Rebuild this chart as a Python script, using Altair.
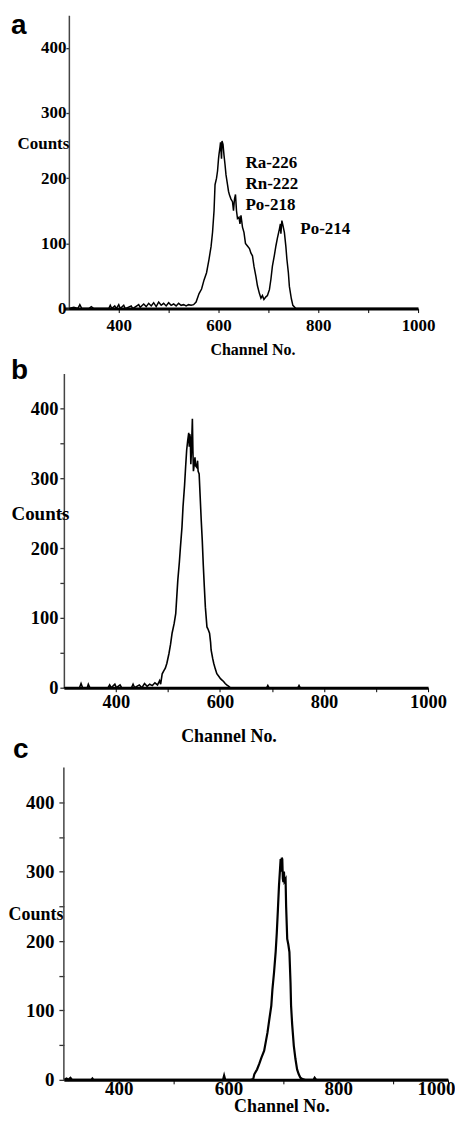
import altair as alt
import pandas as pd

# ---------------- data ----------------
# Panel a: Ra-226 / Rn-222 / Po-218 / Po-214 spectrum
a_ch = [300, 310, 318, 322, 326, 340, 345, 350, 380, 383, 386, 392, 395, 400, 403, 410, 413, 425, 428,
        440, 443, 450, 455, 460, 465, 470, 475, 480, 485, 490, 495, 500, 505, 510, 515, 520, 525, 530,
        535, 540, 545, 550, 555, 561, 566, 571, 576, 581, 585, 588, 591, 593, 596, 598, 600, 601, 603,
        604, 606, 607, 609, 611, 613, 615, 618, 620, 622, 625, 628, 630, 632, 634, 636, 638, 641, 643,
        645, 648, 651, 654, 658, 662, 665, 668, 671, 675, 678, 682, 685, 688, 691, 695, 698, 702, 705,
        708, 712, 715, 718, 722, 724, 725, 727, 729, 732, 735, 737, 740, 742, 746, 749, 755, 1000]
a_ct = [0, 2, 0, 6, 0, 0, 3, 0, 0, 5, 0, 4, 0, 6, 0, 5, 0, 4, 0,
        6, 2, 7, 3, 8, 4, 9, 3, 10, 5, 8, 4, 9, 5, 7, 4, 8, 5, 6,
        4, 6, 5, 6, 10, 23, 30, 44, 55, 76, 95, 117, 150, 190, 200, 211, 230, 237, 248,
        255, 230, 257, 252, 235, 221, 205, 190, 180, 174, 168, 164, 150, 168, 175, 150, 138, 140, 130,
        143, 125, 117, 100, 96, 92, 85, 81, 65, 49, 35, 23, 16, 20, 14, 18, 20, 29, 45,
        65, 82, 96, 108, 122, 130, 115, 135, 128, 117, 95, 76, 55, 34, 15, 5, 0, 0]

ann_text = ["Ra-226", "Rn-222", "Po-218", "Po-214"]
ann_ch = [654, 654, 654, 764]
ann_ct = [215, 183, 151, 115]

# Panel b
b_ch = [300, 330, 333, 336, 345, 347, 350, 385, 388, 391, 398, 401, 408, 411, 430, 433, 436, 445, 450,
        455, 460, 465, 470, 475, 480, 484, 486, 489, 492, 495, 498, 502, 505, 508, 512, 515, 517, 519,
        522, 524, 527, 529, 532, 534, 536, 538, 540, 541, 542, 543, 544, 545, 546, 547, 548, 549, 550,
        552, 553, 555, 557, 558, 560, 562, 564, 566, 568, 570, 572, 575, 577, 580, 582, 583, 586, 588,
        591, 594, 598, 601, 604, 607, 610, 613, 617, 620, 690, 692, 694, 750, 752, 754, 1000]
b_ct = [0, 0, 6, 0, 0, 5, 0, 0, 4, 0, 5, 0, 4, 0, 0, 5, 0, 4, 0,
        6, 2, 5, 3, 7, 4, 10, 5, 20, 24, 28, 35, 49, 62, 78, 92, 106, 130, 154,
        180, 201, 230, 259, 290, 316, 340, 354, 365, 345, 363, 358, 320, 335, 360, 385, 340, 310, 316,
        330, 318, 316, 325, 310, 306, 273, 240, 211, 175, 144, 115, 87, 84, 78, 65, 54, 42, 35,
        27, 20, 16, 13, 11, 9, 6, 4, 2, 0, 0, 3, 0, 0, 3, 0, 0]

# Panel c
c_ch = [300, 305, 308, 312, 315, 350, 352, 354, 590, 592, 594, 640, 645, 647, 652, 656, 660, 665, 668,
        671, 674, 678, 680, 683, 686, 688, 690, 692, 694, 695, 696, 697, 698, 699, 700, 701, 702, 704,
        705, 707, 709, 711, 713, 714, 716, 719, 722, 725, 728, 731, 735, 740, 755, 757, 760, 1000]
c_ct = [0, 2, 0, 3, 0, 0, 2, 0, 0, 6, 0, 0, 1, 8, 15, 23, 32, 42, 55,
        68, 85, 107, 130, 155, 185, 212, 245, 280, 305, 318, 300, 320, 318, 290, 285, 300, 286, 289,
        250, 203, 195, 184, 140, 107, 80, 49, 30, 15, 8, 3, 1, 0, 0, 3, 0, 0]

SERIF = "Liberation Serif"
SANS = "Liberation Sans"


def panel(ch, ct, letter, xdom, width, height, ytop, fs, tfs, xtfs, sw,
          letter_xy, counts_xy, xlab_pad, xtitle_xy, ytick, ylab_pad, yoffset, draw_rule, flush_off):
    df = pd.DataFrame({"ch": ch, "ct": ct})
    xax = alt.Axis(values=[400, 500, 600, 700, 800, 900, 1000], format="d",
                   labelExpr="datum.value % 200 == 0 ? datum.label : ''",
                   labelFlush=flush_off is not None, labelFlushOffset=flush_off or 0,
                   labelOverlap=False, grid=False,
                   labelFont=SERIF, labelFontWeight="bold", labelFontSize=fs, labelColor="black",
                   labelBaseline="middle", labelPadding=xlab_pad, tickSize=4, tickColor="black",
                   tickWidth=1, domainColor="black", domainWidth=3,
                   title="Channel No.", titleFont=SERIF, titleFontWeight="bold", titleFontSize=xtfs,
                   titleColor="black", titleAlign="center", titleBaseline="middle",
                   titleX=xtitle_xy[0], titleY=xtitle_xy[1])
    yax = alt.Axis(values=[0, 50, 100, 150, 200, 250, 300, 350, 400], format="d",
                   labelExpr="datum.value % 100 == 0 ? datum.label : ''",
                   labelFlush=False, labelOverlap=False, grid=False,
                   labelFont=SERIF, labelFontWeight="bold", labelFontSize=fs, labelColor="black",
                   labelPadding=ylab_pad, tickSize=ytick, tickColor="#333", tickWidth=1.3,
                   domain=not draw_rule, domainColor="#444", domainWidth=1.5, offset=yoffset,
                   title="Counts", titleFont=SERIF, titleFontWeight="bold", titleFontSize=tfs,
                   titleColor="black", titleAngle=0, titleAlign="right", titleBaseline="middle",
                   titleX=counts_xy[0], titleY=counts_xy[1])
    x = alt.X("ch:Q", scale=alt.Scale(domain=xdom, nice=False, zero=False), axis=xax)
    y = alt.Y("ct:Q", scale=alt.Scale(domain=[0, ytop], nice=False), axis=yax)
    line = alt.Chart(df).mark_line(color="black", strokeWidth=sw, interpolate="linear").encode(x=x, y=y)
    layers = [line]
    if draw_rule:
        rdf = pd.DataFrame({"ch": [300], "y0": [0], "y1": [450]})
        layers.append(alt.Chart(rdf).mark_rule(color="#444", strokeWidth=1.5).encode(
            x="ch:Q", y="y0:Q", y2="y1:Q"))
    ldf = pd.DataFrame({"t": [letter]})
    layers.append(alt.Chart(ldf).mark_text(font=SANS, fontWeight="bold", fontSize=28, align="left",
                                           baseline="alphabetic", color="black").encode(
        x=alt.value(letter_xy[0]), y=alt.value(letter_xy[1]), text="t:N"))
    return layers, width, height


la, wa, ha = panel(a_ch, a_ct, "a", [290, 1000], 355, 294, 450, 17, 17, 16, 1.5,
                   (-53, 19), (0, 129), 13, (189, 41), 3, 0, -5, False, None)
adf = pd.DataFrame({"t": ann_text, "ch": ann_ch, "ct": ann_ct})
la.append(alt.Chart(adf).mark_text(font=SERIF, fontWeight="bold", fontSize=17, align="left",
                                   baseline="alphabetic", color="black").encode(
    x="ch:Q", y="ct:Q", text="t:N"))
chart_a = alt.layer(*la).properties(width=wa, height=ha)

lb, wb, hb = panel(b_ch, b_ct, "b", [300, 1000], 365, 315, 450, 18.5, 19, 18, 1.6,
                   (-53, 6), (5, 140), 10, (165, 49), 4, 2, 0, False, None)
chart_b = alt.layer(*lb).properties(width=wb, height=hb)

lc, wc, hc = panel(c_ch, c_ct, "c", [300, 1000], 385, 328, 471.5, 19, 18, 18, 2.2,
                   (-51, 5), (-1, 162), 5, (218, 27), 5, 5, 0, True, 7)
chart_c = alt.layer(*lc).properties(width=wc, height=hc)

chart = alt.vconcat(chart_a, chart_b, chart_c, spacing=65, bounds="flush").properties(
    padding={"top": 3, "left": -1, "right": 0, "bottom": 0}
).configure(background="white").configure_view(strokeWidth=0, stroke="transparent")

chart.save("out.html", embed_options={"renderer": "svg", "actions": False})
